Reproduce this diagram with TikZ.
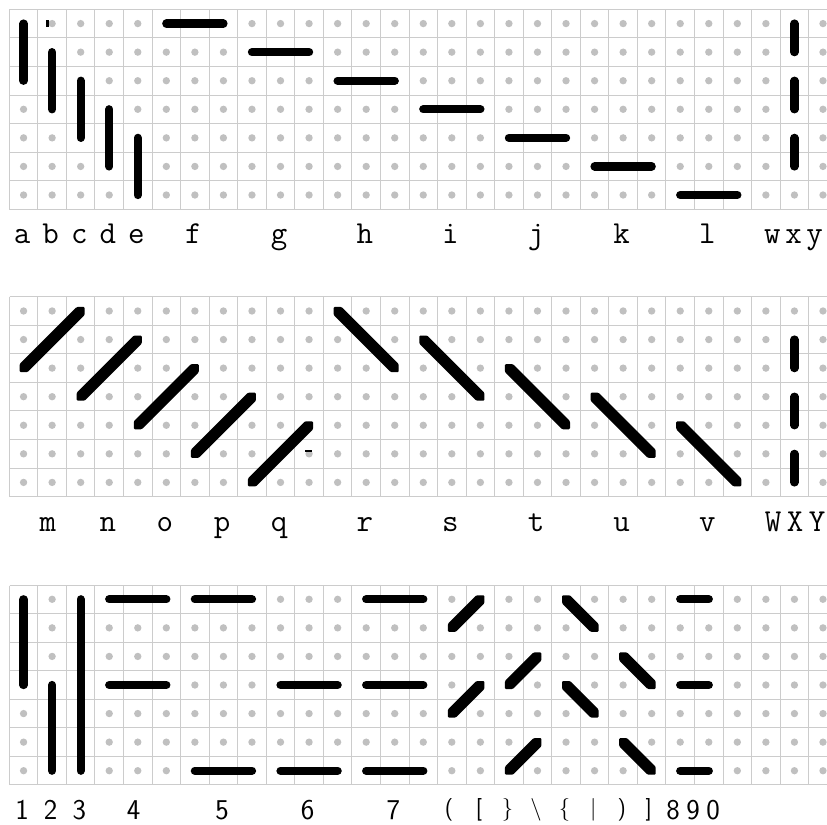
\documentclass[tikz,border=0pt]{standalone}
\usetikzlibrary{calc}
\definecolor{gridc}{RGB}{204,204,204}
\definecolor{dotc}{RGB}{192,192,192}
\tikzset{
  gridline/.style={draw=gridc, line width=0.75pt},
  griddot/.style={fill=dotc},
  bar/.style={draw=black, line width=6.2pt, line cap=round},
  diagbar/.style={fill=black, rounded corners=0.8pt},
  lbl/.style={anchor=base, inner sep=0pt, font=\ttfamily\fontsize{24}{26}\selectfont},
  lbls/.style={anchor=base, inner sep=0pt, font=\sffamily\fontsize{21.5}{24}\selectfont},
  lblb/.style={anchor=center, inner sep=0pt, font=\sffamily\fontsize{17}{19}\selectfont},
  artifact/.style={fill=black},
}
\newcommand\DiagUp[2]{\fill[diagbar] ($(#1)+(-3pt,-3pt)$) -- ($(#1)+(3pt,-3pt)$) -- ($(#2)+(3pt,-3pt)$) -- ($(#2)+(3pt,3pt)$) -- ($(#2)+(-3pt,3pt)$) -- ($(#1)+(-3pt,3pt)$) -- cycle;}
\newcommand\DiagDn[2]{\fill[diagbar] ($(#1)+(-3pt,3pt)$) -- ($(#1)+(-3pt,-3pt)$) -- ($(#2)+(-3pt,-3pt)$) -- ($(#2)+(3pt,-3pt)$) -- ($(#2)+(3pt,3pt)$) -- ($(#1)+(3pt,3pt)$) -- cycle;}
% grid lines in pixel units, snapped to pixel centres; #1 = panel top in px
\newcommand\PanelLines[1]{%
  \pgfmathsetmacro\ptop{floor(#1)+0.5}%
  \pgfmathsetmacro\pbot{floor(#1+7*28.57)+0.5}%
  \foreach \k in {0,...,29} {%
    \pgfmathsetmacro\xx{floor(9.3+28.55*\k)+0.5}%
    \draw[gridline] (\xx,\ptop) -- (\xx,\pbot);}
  \foreach \k in {0,...,7} {%
    \pgfmathsetmacro\yy{floor(#1+28.57*\k)+0.5}%
    \draw[gridline] (9.5,\yy) -- (840,\yy);}
}
\newcommand\PanelDots{%
  \foreach \i in {0,...,28} {\foreach \j in {0,...,6} {\fill[griddot] (\i,\j) circle (2.75pt);}}
}
\begin{document}
\begin{tikzpicture}[x=0.75pt, y=-0.75pt]
\useasboundingbox (0,0) rectangle (827,824);
\clip (0,0) rectangle (827,824);
\fill[white] (0,0) rectangle (827,824);
\PanelLines{9.3}
\PanelLines{296.7}
\PanelLines{585}

% ---------- panel 1 ----------
\begin{scope}[shift={(23.575,23.585)}, x=21.4125pt, y=-21.4275pt]
\PanelDots
\draw[bar] (0,0) -- (0,2);
\draw[bar] (1,1) -- (1,3);
\draw[bar] (2,2) -- (2,4);
\draw[bar] (3,3) -- (3,5);
\draw[bar] (4,4) -- (4,6);
\draw[bar] (5,0) -- (7,0);
\draw[bar] (8,1) -- (10,1);
\draw[bar] (11,2) -- (13,2);
\draw[bar] (14,3) -- (16,3);
\draw[bar] (17,4) -- (19,4);
\draw[bar] (20,5) -- (22,5);
\draw[bar] (23,6) -- (25,6);
\draw[bar] (27,0) -- (27,1);
\draw[bar] (27,2) -- (27,3);
\draw[bar] (27,4) -- (27,5);
\node[lbl] (la) at (-0.05,7.68) {a};
\node[lbl] (lb) at (0.95,7.68) {b};
\node[lbl] (lc) at (1.95,7.68) {c};
\node[lbl] (ld) at (2.95,7.68) {d};
\node[lbl] (le) at (3.95,7.68) {e};
\node[lbl] (lf) at (5.95,7.68) {f};
\node[lbl] (lg) at (8.95,7.68) {g};
\node[lbl] (lh) at (11.95,7.68) {h};
\node[lbl] (li) at (14.95,7.68) {i};
\node[lbl] (lj) at (17.95,7.68) {j};
\node[lbl] (lk) at (20.95,7.68) {k};
\node[lbl] (ll) at (23.95,7.68) {l};
\node[lbl] (lw) at (26.23,7.68) {w};
\node[lbl] (lx) at (26.97,7.68) {x};
\node[lbl] (ly) at (27.71,7.68) {y};
\end{scope}
\fill[artifact] (46,20) rectangle (48.7,27);

% ---------- panel 2 ----------
\begin{scope}[shift={(23.575,310.985)}, x=21.4125pt, y=-21.4275pt]
\PanelDots
\DiagUp{0,2}{2,0}
\DiagUp{2,3}{4,1}
\DiagUp{4,4}{6,2}
\DiagUp{6,5}{8,3}
\DiagUp{8,6}{10,4}
\DiagDn{11,0}{13,2}
\DiagDn{14,1}{16,3}
\DiagDn{17,2}{19,4}
\DiagDn{20,3}{22,5}
\DiagDn{23,4}{25,6}
\draw[bar] (27,1) -- (27,2);
\draw[bar] (27,3) -- (27,4);
\draw[bar] (27,5) -- (27,6);
\node[lbl] (lm) at (0.85,7.72) {m};
\node[lbl] (ln) at (2.95,7.72) {n};
\node[lbl] (lo) at (4.95,7.72) {o};
\node[lbl] (lp) at (6.95,7.72) {p};
\node[lbl] (lq) at (8.95,7.72) {q};
\node[lbl] (lr) at (11.95,7.72) {r};
\node[lbl] (ls) at (14.95,7.72) {s};
\node[lbl] (lt) at (17.95,7.72) {t};
\node[lbl] (lu) at (20.95,7.72) {u};
\node[lbl] (lv) at (23.95,7.72) {v};
\node[lbl] (lW) at (26.25,7.72) {W};
\node[lbl] (lX) at (27.02,7.72) {X};
\node[lbl] (lY) at (27.79,7.72) {Y};
\end{scope}
\fill[artifact] (305,450) rectangle (312,452.3);

% ---------- panel 3 ----------
\begin{scope}[shift={(23.575,599.285)}, x=21.4125pt, y=-21.4275pt]
\PanelDots
\draw[bar] (0,0) -- (0,3);
\draw[bar] (1,3) -- (1,6);
\draw[bar] (2,0) -- (2,6);
\draw[bar] (3,0) -- (5,0);
\draw[bar] (3,3) -- (5,3);
\draw[bar] (6,0) -- (8,0);
\draw[bar] (6,6) -- (8,6);
\draw[bar] (9,3) -- (11,3);
\draw[bar] (9,6) -- (11,6);
\draw[bar] (12,0) -- (14,0);
\draw[bar] (12,3) -- (14,3);
\draw[bar] (12,6) -- (14,6);
\DiagUp{15,1}{16,0}
\DiagUp{15,4}{16,3}
\DiagUp{17,3}{18,2}
\DiagUp{17,6}{18,5}
\DiagDn{19,0}{20,1}
\DiagDn{19,3}{20,4}
\DiagDn{21,2}{22,3}
\DiagDn{21,5}{22,6}
\draw[bar] (23,0) -- (24,0);
\draw[bar] (23,3) -- (24,3);
\draw[bar] (23,6) -- (24,6);
\node[lbls] (d1) at (-0.05,7.72) {1};
\node[lbls] (d2) at (0.95,7.72) {2};
\node[lbls] (d3) at (1.95,7.72) {3};
\node[lbls] (d4) at (3.85,7.72) {4};
\node[lbls] (d5) at (6.95,7.72) {5};
\node[lbls] (d6) at (9.95,7.72) {6};
\node[lbls] (d7) at (12.95,7.72) {7};
\node[lblb] (s1) at (14.9,7.38) {(};
\node[lblb] (s2) at (15.95,7.38) {[};
\node[lblb] (s3) at (16.95,7.38) {\}};
\node[lblb] (s4) at (17.95,7.38) {\textbackslash};
\node[lblb] (s5) at (18.95,7.38) {\{};
\node[lblb] (s6) at (19.95,7.38) {|};
\node[lblb] (s7) at (20.95,7.38) {)};
\node[lblb] (s8) at (21.9,7.38) {]};
\node[lbls] (d8) at (22.75,7.72) {8};
\node[lbls] (d9) at (23.45,7.72) {9};
\node[lbls] (d0) at (24.15,7.72) {0};
\end{scope}
\end{tikzpicture}
\end{document}
